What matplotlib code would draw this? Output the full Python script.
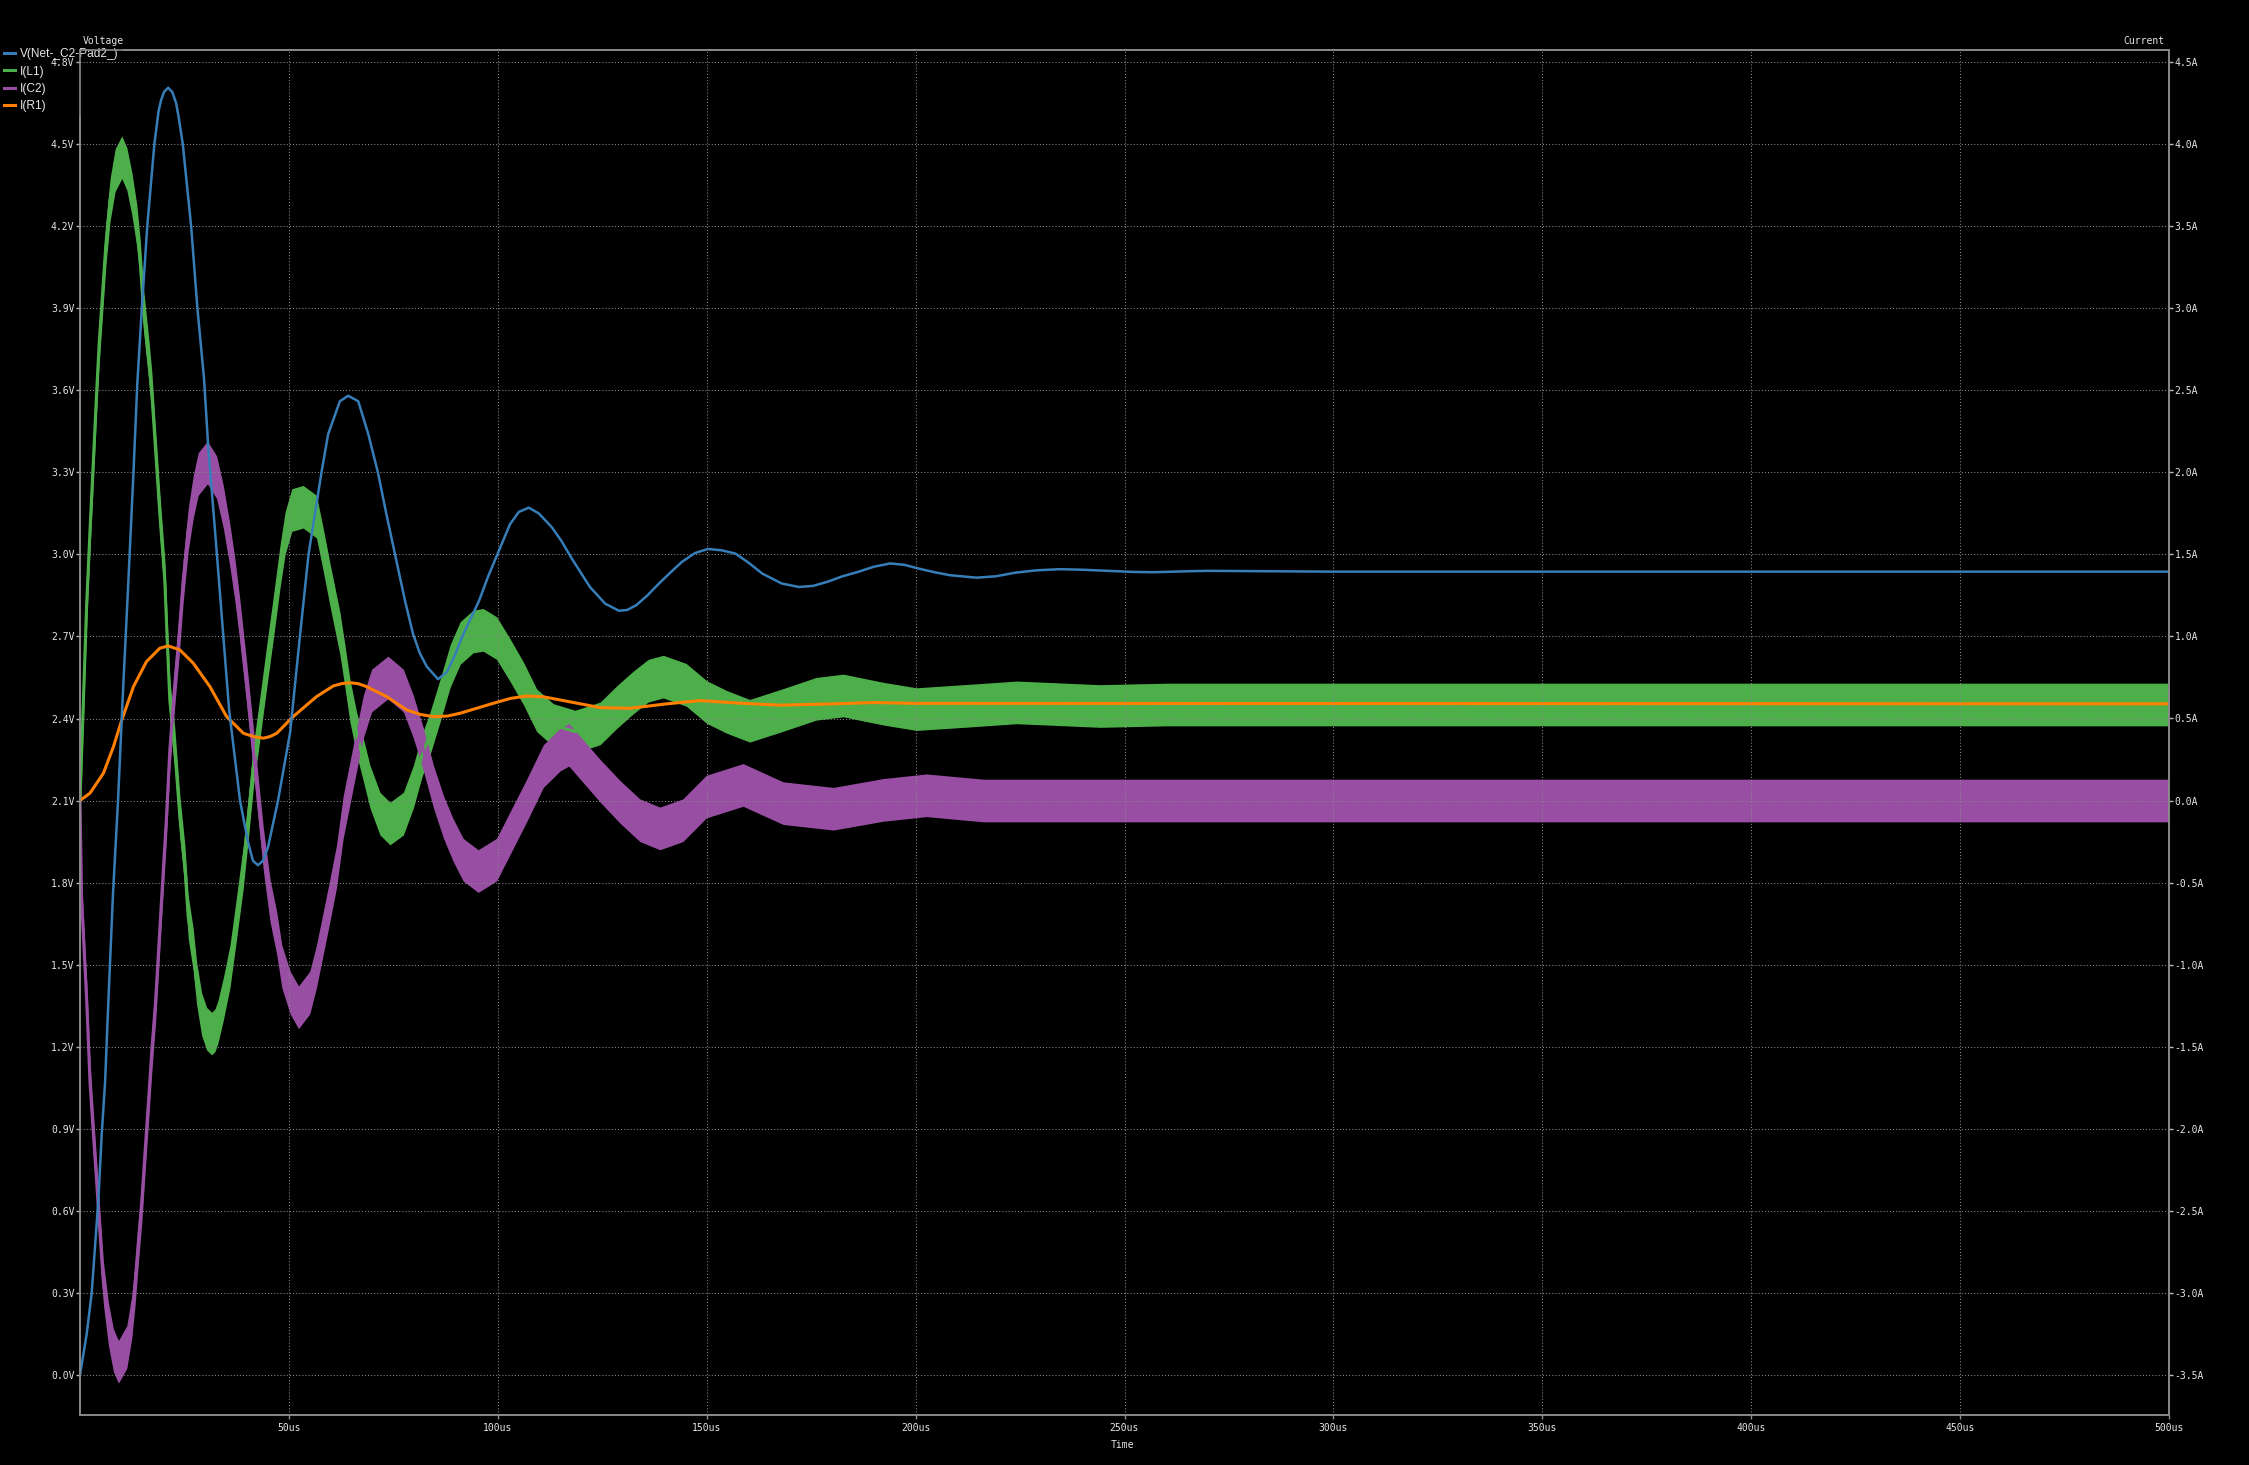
import numpy as np
import matplotlib.pyplot as plt
from matplotlib.lines import Line2D

# V(Net-_C2-Pad2_)  [us, V]
blue_t = [0, 1.6, 2.8, 3.6, 4.4, 5.2, 6.0, 6.8, 7.9, 9.1, 10.2, 11.6, 12.8, 13.7, 14.8, 16.1, 17.8,
          18.8, 19.4, 20.1, 21.1, 22.1, 23.0, 23.6, 24.6, 26.6, 28.1, 29.7, 30.7, 32.3, 33.9, 35.7,
          38.3, 40.2, 41.4, 42.6, 43.8, 45.0, 47.4, 50.3, 52.7, 54.7, 57.8, 59.4, 62.2, 64.2, 66.6,
          69.0, 71.3, 73.3, 75.4, 77.8, 79.7, 81.3, 83.0, 85.7, 87.8, 89.7, 91.5, 95.5, 97.7, 99.9,
          102.9, 105.0, 107.4, 109.8, 112.9, 115.2, 117.5, 120.0, 122.1, 125.7, 129.0, 131.0,
          133.1, 135.8, 138.6, 141.4, 144.1, 147.2, 150.3, 153.6, 156.9, 160.0, 163.3, 167.9,
          172.0, 175.5, 178.9, 182.5, 186.2, 190.0, 193.9, 197.3, 200.8, 204.5, 208.2, 214.6,
          219.2, 223.8, 229.0, 234.5, 240.0, 246.0, 252.0, 257.0, 264.0, 270.0, 280.0, 300.0, 500.0]
blue_v = [0.0, 0.15, 0.30, 0.47, 0.64, 0.88, 1.07, 1.37, 1.76, 2.10, 2.47, 2.91, 3.30, 3.62, 3.90,
          4.20, 4.50, 4.62, 4.66, 4.69, 4.706, 4.69, 4.65, 4.60, 4.50, 4.20, 3.90, 3.64, 3.39, 3.09,
          2.78, 2.43, 2.10, 1.95, 1.88, 1.864, 1.88, 1.93, 2.10, 2.35, 2.71, 3.00, 3.30, 3.44, 3.56,
          3.58, 3.56, 3.44, 3.30, 3.15, 3.00, 2.83, 2.71, 2.64, 2.59, 2.544, 2.57, 2.63, 2.70, 2.83,
          2.92, 3.00, 3.11, 3.155, 3.171, 3.15, 3.10, 3.05, 2.99, 2.93, 2.88, 2.82, 2.794, 2.797,
          2.814, 2.85, 2.894, 2.935, 2.973, 3.005, 3.02, 3.015, 3.003, 2.97, 2.93, 2.894, 2.881,
          2.885, 2.90, 2.92, 2.936, 2.955, 2.967, 2.962, 2.948, 2.935, 2.924, 2.915, 2.92, 2.933,
          2.942, 2.946, 2.944, 2.94, 2.936, 2.935, 2.938, 2.94, 2.939, 2.937, 2.937]

# I(L1)  [us, A]
green_t = [0, 0.8, 1.6, 2.4, 3.2, 4.0, 4.6, 5.4, 6.2, 7.2, 8.4, 10.0, 11.2, 12.4, 13.6, 14.4, 15.2,
           16.4, 17.2, 18.0, 19.1, 20.3, 20.9, 21.5, 22.7, 23.9, 25.1, 25.9, 27.1, 27.9, 29.1,
           30.3, 31.5, 32.3, 33.0, 34.3, 35.9, 37.5, 39.1, 40.3, 41.5, 43.1, 44.7, 46.3, 47.9,
           49.1, 50.7, 53.4, 56.6, 58.2, 59.8, 61.4, 62.2, 63.4, 64.6, 66.2, 67.8, 69.4, 71.8,
           74.2, 77.4, 79.8, 81.8, 83.8, 86.2, 88.6, 91.0, 94.1, 96.5, 99.7, 102.9, 106.1, 109.3,
           113.3, 118.5, 124.5, 128.5, 132.5, 136.0, 139.6, 145.1, 150.0, 154.8, 160.3, 168.3,
           176.2, 182.7, 192.3, 200.2, 212.2, 224.2, 244.1, 260, 500]
green_i = [0.0, 0.6, 1.2, 1.65, 2.07, 2.50, 2.79, 3.09, 3.39, 3.66, 3.84, 3.92, 3.85, 3.70, 3.50,
           3.29, 2.99, 2.70, 2.48, 2.17, 1.75, 1.34, 0.96, 0.61, 0.31, -0.10, -0.40, -0.71, -0.91,
           -1.11, -1.30, -1.39, -1.42, -1.40, -1.35, -1.21, -1.01, -0.71, -0.40, -0.10, 0.21, 0.51,
           0.82, 1.12, 1.43, 1.63, 1.77, 1.79, 1.73, 1.53, 1.32, 1.12, 1.02, 0.82, 0.61, 0.41,
           0.25, 0.085, -0.08, -0.14, -0.08, 0.085, 0.27, 0.41, 0.61, 0.82, 0.96, 1.03, 1.04,
           0.99, 0.857, 0.715, 0.55, 0.46, 0.42, 0.47, 0.57, 0.66, 0.73, 0.755, 0.705, 0.60, 0.54,
           0.486, 0.552, 0.62, 0.64, 0.59, 0.557, 0.577, 0.598, 0.576, 0.585, 0.585]
green_ripple = 0.13

# I(C2)  [us, A]
purple_t = [0, 0.4, 1.2, 1.6, 2.4, 3.2, 4.0, 4.8, 5.6, 6.8, 8.0, 9.2, 11.2, 12.4, 13.2, 14.0, 14.8,
            15.6, 16.4, 17.2, 18.1, 19.5, 20.7, 21.5, 22.7, 23.7, 24.7, 25.9, 27.1, 28.3, 30.5,
            32.7, 34.3, 35.9, 37.1, 38.2, 39.9, 41.5, 42.7, 43.9, 45.5, 47.1, 48.3, 50.3, 52.3,
            55.0, 56.6, 58.2, 59.8, 61.4, 63.0, 64.6, 66.2, 67.8, 69.8, 73.7, 77.4, 79.8, 82.2,
            84.6, 87.0, 89.3, 91.7, 95.3, 99.7, 102.9, 106.9, 110.9, 114.9, 117.0, 124.5, 129.2,
            134.0, 138.8, 144.3, 149.9, 158.7, 168.3, 180.3, 192.3, 202.6, 216.2, 232.1, 500]
purple_i = [0.0, -0.61, -1.02, -1.22, -1.72, -2.03, -2.33, -2.64, -2.94, -3.19, -3.35, -3.42,
            -3.33, -3.145, -2.94, -2.68, -2.44, -2.13, -1.83, -1.52, -1.22, -0.61, -0.10, 0.31,
            0.71, 1.0, 1.34, 1.65, 1.85, 1.99, 2.06, 1.97, 1.79, 1.55, 1.34, 1.11, 0.71, 0.31, 0.0,
            -0.30, -0.61, -0.81, -1.01, -1.17, -1.26, -1.17, -1.01, -0.81, -0.61, -0.40, -0.10,
            0.105, 0.31, 0.51, 0.67, 0.75, 0.67, 0.51, 0.31, 0.085, -0.10, -0.24, -0.36, -0.43,
            -0.36, -0.20, 0.0, 0.21, 0.31, 0.34, 0.12, -0.007, -0.12, -0.17, -0.12, 0.024, 0.095,
            -0.016, -0.05, 0.004, 0.032, 0.0, 0.0, 0.0]
purple_ripple = 0.13

# I(R1)  [us, A]
orange_t = [0, 2.4, 5.6, 8.0, 10.0, 12.8, 15.9, 19.1, 21.1, 23.9, 27.1, 31.1, 35.1, 39.1, 41.5,
            43.9, 45.5, 47.1, 51.0, 56.6, 60.6, 62.6, 64.6, 66.6, 68.6, 73.4, 78.2, 81.4, 84.6,
            88.0, 91.0, 99.0, 103.0, 106.9, 110.9, 114.9, 124.5, 131.6, 140.4, 148.4, 158.0, 167.5,
            180.3, 189.9, 200, 500]
orange_i = [0.0, 0.045, 0.166, 0.328, 0.49, 0.694, 0.846, 0.928, 0.942, 0.918, 0.837, 0.694,
            0.511, 0.41, 0.39, 0.38, 0.39, 0.41, 0.511, 0.633, 0.698, 0.712, 0.718, 0.712, 0.694,
            0.633, 0.552, 0.525, 0.511, 0.515, 0.532, 0.593, 0.622, 0.637, 0.632, 0.613, 0.566,
            0.562, 0.589, 0.609, 0.593, 0.581, 0.589, 0.597, 0.592, 0.589]

series_names = ["V(Net-_C2-Pad2_)", "I(L1)", "I(C2)", "I(R1)"]
v_ticks = [0.0, 0.3, 0.6, 0.9, 1.2, 1.5, 1.8, 2.1, 2.4, 2.7, 3.0, 3.3, 3.6, 3.9, 4.2, 4.5, 4.8]
i_ticks = [-3.5, -3.0, -2.5, -2.0, -1.5, -1.0, -0.5, 0.0, 0.5, 1.0, 1.5, 2.0, 2.5, 3.0, 3.5, 4.0, 4.5]
t_ticks = [50, 100, 150, 200, 250, 300, 350, 400, 450, 500]

BLUE = "#377eb8"
GREEN = "#4daf4a"
PURPLE = "#984ea3"
ORANGE = "#ff7f00"
GRID = "#8a8a8a"
TXT = "#e6e6e6"
W, H = 2249, 1465

fig = plt.figure(figsize=(W / 100, H / 100), dpi=100, facecolor="black")
ax = fig.add_axes([80 / W, 50 / H, (2169 - 80) / W, (1415 - 50) / H])
ax2 = ax.twinx()
ax2.set_zorder(0)
ax.set_zorder(1)
ax.patch.set_visible(False)
ax2.patch.set_facecolor("black")

# currents on the right axis
g = np.array(green_i)
ax2.fill_between(green_t, g - green_ripple, g + green_ripple, color=GREEN, linewidth=0)
ax2.plot(green_t, green_i, color=GREEN, lw=2.2)
p = np.array(purple_i)
ax2.fill_between(purple_t, p - purple_ripple, p + purple_ripple, color=PURPLE, linewidth=0)
ax2.plot(purple_t, purple_i, color=PURPLE, lw=2.2)
ax2.plot(orange_t, orange_i, color=ORANGE, lw=2.2)

# voltage on the left axis, drawn on top
ax.plot(blue_t, blue_v, color=BLUE, lw=1.8)

ax.set_xlim(0, 500)
ax.set_ylim(-0.146, 4.844)
ax2.set_ylim(-3.744, 4.573)

mono = {"family": "DejaVu Sans Mono", "size": 7}
ax.set_xticks(t_ticks)
ax.set_xticklabels([f"{t}us" for t in t_ticks], fontdict=mono, color=TXT)
ax.set_yticks(v_ticks)
ax.set_yticklabels([f"{v:.1f}V" for v in v_ticks], fontdict=mono, color=TXT)
ax2.set_yticks(i_ticks)
ax2.set_yticklabels([f"{i:.1f}A" for i in i_ticks], fontdict=mono, color=TXT)

ax.tick_params(axis="y", length=3, width=1, color="#bbbbbb", pad=1)
ax.tick_params(axis="x", length=3, width=1, color=GRID, pad=3)
ax2.tick_params(axis="y", length=3, width=1, color="#bbbbbb", pad=1)

ax.grid(True, color=GRID, linestyle=(0, (1, 2)), linewidth=0.75)
for a in (ax, ax2):
    for s in a.spines.values():
        s.set_color(GRID)
        s.set_linewidth(1.2)

fig.text(83 / W, 1 - 41 / H, "Voltage", fontdict=mono, color=TXT, va="center", ha="left", zorder=20)
fig.text(2165 / W, 1 - 41 / H, "Current", fontdict=mono, color=TXT, va="center", ha="right", zorder=20)
fig.text(1122 / W, 1 - 1445 / H, "Time", fontdict=mono, color=TXT, va="center", ha="center", zorder=20)

handles = [Line2D([], [], color=c, lw=2.2) for c in (BLUE, GREEN, PURPLE, ORANGE)]
leg = fig.legend(handles, series_names, loc="upper left", bbox_to_anchor=(0.0, 1 - 44 / H),
                 frameon=True, facecolor="black", edgecolor="none", framealpha=1,
                 fancybox=False, handlelength=0.9, handletextpad=0.4, labelspacing=0.45,
                 borderpad=0.35, borderaxespad=0,
                 prop={"family": "Liberation Sans", "size": 8.6})
for t in leg.get_texts():
    t.set_color(TXT)
leg.set_zorder(0.5)

fig.savefig("out.png", dpi=100, facecolor="black")
